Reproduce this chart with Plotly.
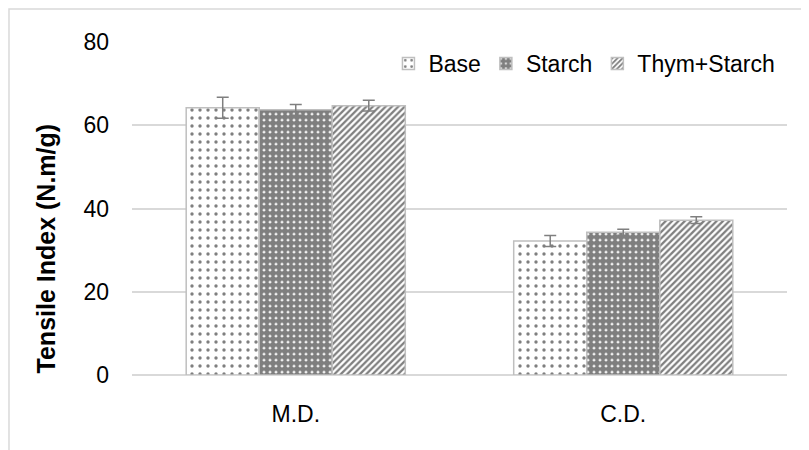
import plotly.graph_objects as go

categories = ["M.D.", "C.D."]
series_names = ["Base", "Starch", "Thym+Starch"]
base_vals = [64.2, 32.2]
base_err = [2.5, 1.3]
starch_vals = [63.7, 34.3]
starch_err = [1.3, 0.7]
thym_vals = [64.7, 37.2]
thym_err = [1.3, 0.8]
y_ticks = [0, 20, 40, 60, 80]
y_title = "Tensile Index (N.m/g)"

values = [base_vals, starch_vals, thym_vals]
errors = [base_err, starch_err, thym_err]
patterns = [
    dict(shape=".", fgcolor="black", bgcolor="white", size=8, solidity=0.14, fillmode="overlay"),
    dict(shape=".", fgcolor="black", bgcolor="white", size=6, solidity=0.8, fillmode="overlay"),
    dict(shape="/", fgcolor="black", bgcolor="white", size=4.5, solidity=0.5, fillmode="overlay"),
]

fig = go.Figure()
for name, v, e, p in zip(series_names, values, errors, patterns):
    fig.add_trace(go.Bar(
        x=categories, y=v, name=name,
        marker=dict(color="white", pattern=p, line=dict(color="#bfbfbf", width=1.5)),
        error_y=dict(type="data", array=e, visible=True, color="#7f7f7f", thickness=1.5, width=6),
    ))

FONT = "Liberation Sans, Arial, sans-serif"
# page body has an 8px margin, so the figure is 8px smaller and offset
fig.update_layout(
    width=801, height=442,
    margin=dict(l=124, r=22, t=34, b=75),
    paper_bgcolor="white", plot_bgcolor="white",
    barmode="group", bargap=0.331, bargroupgap=0,
    font=dict(family=FONT, size=23, color="black"),
    showlegend=True,
    legend=dict(orientation="h", x=0.99, xanchor="right", y=1.0, yanchor="top",
                bgcolor="rgba(0,0,0,0)", font=dict(size=23, color="black"),
                itemwidth=30, tracegroupgap=0),
    shapes=[dict(type="rect", xref="paper", yref="paper",
                 x0=-0.1878, x1=1.1, y0=-0.4, y1=1.099,
                 line=dict(color="#d9d9d9", width=1.5), fillcolor="rgba(0,0,0,0)", layer="below")],
    annotations=[dict(text="<b>" + y_title + "</b>", xref="paper", yref="paper",
                      x=-0.1313, y=0.38, xanchor="center", yanchor="middle",
                      textangle=-90, showarrow=False,
                      font=dict(size=25, family=FONT, color="black"))],
)
fig.update_yaxes(range=[0, 80], tickvals=y_ticks, gridcolor="#d9d9d9", gridwidth=1.5,
                 zeroline=True, zerolinecolor="#d9d9d9", zerolinewidth=1.5,
                 showline=False, ticks="", ticklabelstandoff=22)
fig.update_xaxes(showline=False, ticks="", ticklabelstandoff=23, showgrid=False)

fig.write_html("out.html")
